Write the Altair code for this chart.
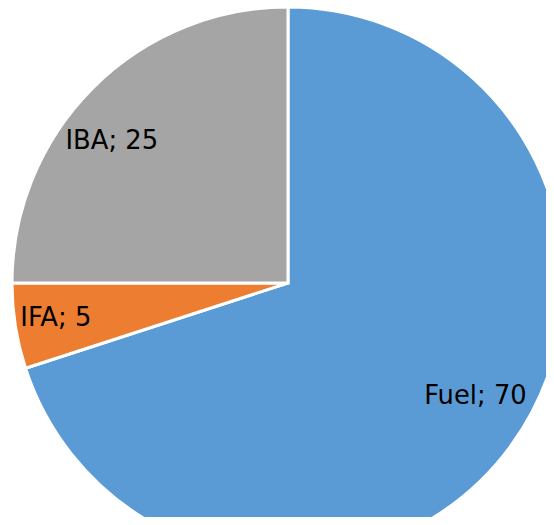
import altair as alt
import pandas as pd

categories = ["Fuel", "IFA", "IBA"]
values = [70, 5, 25]
colors = ["#5B9BD5", "#ED7D31", "#A5A5A5"]

df = pd.DataFrame({"cat": categories, "val": values, "order": [0, 1, 2]})
df["label"] = df["cat"] + "; " + df["val"].astype(str)

base = alt.Chart(df).encode(
    theta=alt.Theta("val:Q", stack=True),
    order=alt.Order("order:Q"),
)

pie = base.mark_arc(stroke="white", strokeWidth=3, clip=True).encode(
    color=alt.Color("cat:N", scale=alt.Scale(domain=categories, range=colors), legend=None),
    x=alt.value(280),
    y=alt.value(275),
    radius=alt.value(276),
)

offsets = {"Fuel": (3, -21), "IFA": (-7, -1), "IBA": (-15, 19)}
texts = []
for c in categories:
    dx, dy = offsets[c]
    texts.append(
        base.mark_text(font="DejaVu Sans", fontSize=25.8, color="black", dx=dx, dy=dy,
                       align="center", baseline="middle")
        .encode(text=alt.condition(alt.datum.cat == c, "label:N", alt.value("")),
                x=alt.value(280), y=alt.value(275), radius=alt.value(228))
    )

chart = alt.layer(pie, *texts).properties(
    width=538, height=509, padding=0, autosize=alt.AutoSizeParams(type="none")
).configure_view(stroke=None)

chart.save("out.html", embed_options={"renderer": "svg", "actions": False})
